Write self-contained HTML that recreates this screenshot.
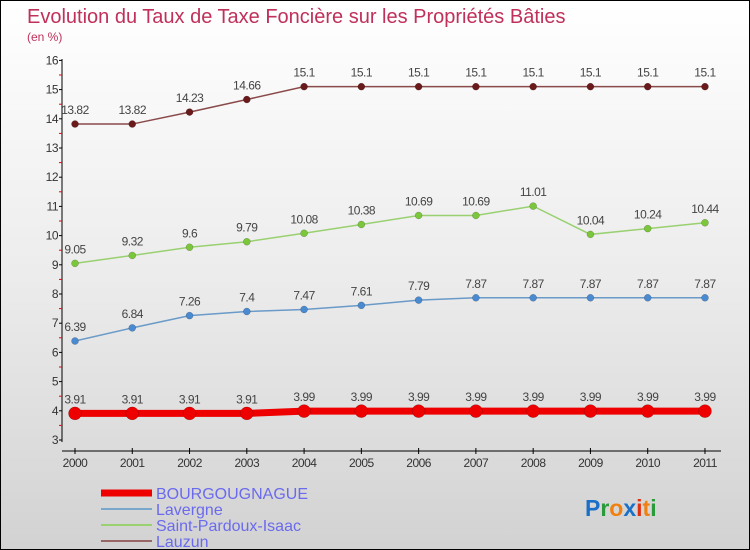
<!DOCTYPE html>
<html><head><meta charset="utf-8"><style>
body{margin:0}
#c{width:748px;height:548px;border:1px solid #000;background:linear-gradient(#fff 0%,#ececec 50%,#d2d2d2 100%);position:relative;overflow:hidden;font-family:"Liberation Sans",sans-serif}
</style></head><body>
<div id="c">
<svg id="s" width="748" height="548"></svg>
</div>
<script>
const years=["2000","2001","2002","2003","2004","2005","2006","2007","2008","2009","2010","2011"];
const bourg=[3.91,3.91,3.91,3.91,3.99,3.99,3.99,3.99,3.99,3.99,3.99,3.99];
const laver=[6.39,6.84,7.26,7.4,7.47,7.61,7.79,7.87,7.87,7.87,7.87,7.87];
const saint=[9.05,9.32,9.6,9.79,10.08,10.38,10.69,10.69,11.01,10.04,10.24,10.44];
const lauz=[13.82,13.82,14.23,14.66,15.1,15.1,15.1,15.1,15.1,15.1,15.1,15.1];
const yTicks=[3,4,5,6,7,8,9,10,11,12,13,14,15,16];
const NS="http://www.w3.org/2000/svg",s=document.getElementById('s');
const X=i=>74+i*57.27, Y=v=>439-(v-3)*29.2;
function el(t,a,p){const e=document.createElementNS(NS,t);for(const k in a)e.setAttribute(k,a[k]);(p||s).appendChild(e);return e;}
function tx(x,y,str,a){const e=el('text',Object.assign({x:x,y:y},a));e.textContent=str;return e;}
let t=tx(26,22,"Evolution du Taux de Taxe Foncière sur les Propriétés Bâties",{fill:"#c0305a","font-size":"20"});

t=tx(26,40,"(en %)",{fill:"#c0305a","font-size":"12"});

let ax=el('line',{x1:61,y1:58,x2:61,y2:441,stroke:"#000"});

ax=el('line',{x1:61,y1:450,x2:720,y2:450,stroke:"#000"});

yTicks.forEach(v=>{el('line',{x1:58,y1:Y(v),x2:61,y2:Y(v),stroke:"#000"});
 if(v<16)el('line',{x1:58,y1:Y(v+0.5),x2:61,y2:Y(v+0.5),stroke:"#e00"});
 let l=tx(57,Y(v)+4,String(v),{"text-anchor":"end","font-size":"12",fill:"#333","letter-spacing":"-0.5"});
 });
years.forEach((y,i)=>{el('line',{x1:X(i),y1:447,x2:X(i),y2:453,stroke:"#000"});
 let l=tx(X(i),466,y,{"text-anchor":"middle","font-size":"12",fill:"#333","letter-spacing":"-0.5"});
 });
function series(d,name,col,dot,w,r){
 const g=el('g',{});
 el('polyline',{points:d.map((v,i)=>X(i)+','+Y(v)).join(' '),fill:"none",stroke:col,"stroke-width":w},g);
 d.forEach((v,i)=>{const c=el('circle',{cx:X(i),cy:Y(v),r:r,fill:dot,stroke:"rgba(0,0,0,0.3)","stroke-width":0.5},g);
  
  const l=tx(X(i),Y(v)-10,String(v),{"text-anchor":"middle","font-size":"12",fill:"#444","letter-spacing":"-0.5"},g);
  });
}
series(lauz,'lauzun','#8a4a4a','#6a1a1a',1.5,3.5);
series(saint,'saint-pardoux-isaac','#99d070','#7cc63c',1.5,3.5);
series(laver,'lavergne','#6a9ac8','#4a8ad0',1.5,3.5);
series(bourg,'bourgougnague','#ee0000','#ee0000',7,6.5);
const leg=[["BOURGOUGNAGUE","#ee0000",7],["Lavergne","#7aa8cc",2],["Saint-Pardoux-Isaac","#99d070",2],["Lauzun","#996666",2]];
leg.forEach((L,i)=>{const y=492+i*16;
 const g=el('g',{});
 el('line',{x1:100,y1:y,x2:151,y2:y,stroke:L[1],"stroke-width":L[2]},g);
 tx(155,y+6,L[0],{"font-size":"16",fill:"#6a6aee"},g);});
const lg=el('text',{x:584,y:515,"font-size":"23","font-weight":"bold","font-family":"Liberation Sans, sans-serif"});

[["P","#1a70c8"],["r","#2a9a3a"],["o","#f08010"],["x","#1a70c8"],["i","#e03010"],["t","#f08010"],["i","#2a9a3a"]].forEach(c=>{const sp=el('tspan',{fill:c[1]},lg);sp.textContent=c[0];});
</script>
</body></html>
